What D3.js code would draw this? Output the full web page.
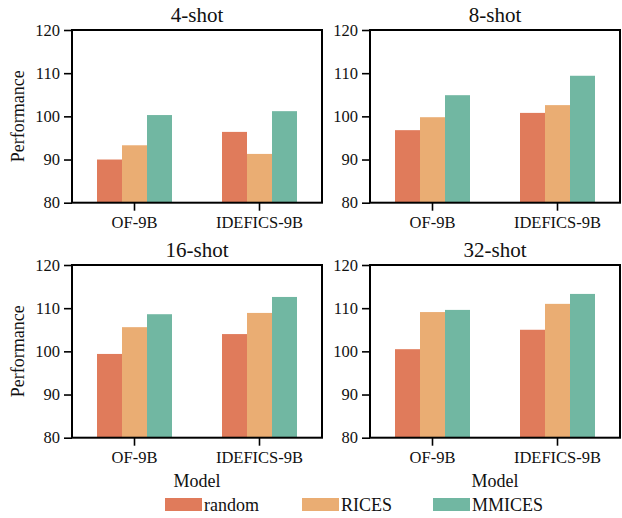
<!DOCTYPE html>
<html>
<head>
<meta charset="utf-8">
<script src="https://cdn.jsdelivr.net/npm/d3@7.9.0/dist/d3.min.js"></script>
<style>
  body { margin: 0; background: #fff; }
  svg text { font-family: "Liberation Serif", "Times New Roman", serif; }
</style>
</head>
<body>
<svg id="chart" width="622" height="518"></svg>
<script>
const shots = ["4-shot", "8-shot", "16-shot", "32-shot"];
const models = ["OF-9B", "IDEFICS-9B"];
const methods = ["random", "RICES", "MMICES"];
// one row per shot, one value per model
const random = [[90.0, 96.4], [96.8, 100.8], [99.4, 104.0], [100.5, 105.0]];
const rices = [[93.3, 91.3], [99.8, 102.6], [105.6, 108.9], [109.1, 111.0]];
const mmices = [[100.3, 101.2], [104.9, 109.4], [108.6, 112.6], [109.6, 113.3]];
const yTicks = [80, 90, 100, 110, 120];

const series = [random, rices, mmices];
const color = d3.scaleOrdinal().domain(methods).range(["#e07b5b", "#eaad73", "#71b7a2"]);

const svg = d3.select('#chart');
const w = 250, h = 172.7;
const origins = [[72, 30], [370, 30], [72, 265], [370, 265]];

const x0 = d3.scaleBand().domain(models).range([0, w]).paddingInner(0.4).paddingOuter(0.2);
const x1 = d3.scaleBand().domain(methods).range([0, x0.bandwidth()]);
const y = d3.scaleLinear().domain([80, 120]).range([h, 0]);

shots.forEach((shot, s) => {
  const [ox, oy] = origins[s];
  const g = svg.append('g').attr('transform', `translate(${ox},${oy})`);

  const rows = models.map((m, mi) => ({
    model: m,
    vals: methods.map((k, ki) => ({ key: k, value: series[ki][s][mi] }))
  }));

  g.selectAll('g.grp')
    .data(rows)
    .enter()
    .append('g')
    .attr('transform', d => `translate(${x0(d.model)},0)`)
    .selectAll('rect')
    .data(d => d.vals)
    .enter()
    .append('rect')
    .attr('x', d => x1(d.key))
    .attr('width', x1.bandwidth())
    .attr('y', d => y(d.value))
    .attr('height', d => h - y(d.value))
    .attr('fill', d => color(d.key));

  const yAxis = g.append('g')
    .call(d3.axisLeft(y).tickValues(yTicks).tickSize(8).tickPadding(4));
  const xAxis = g.append('g')
    .attr('transform', `translate(0,${h})`)
    .call(d3.axisBottom(x0).tickSize(8).tickPadding(6));

  [yAxis, xAxis].forEach(a => {
    a.attr('font-family', null);
    a.select('.domain').remove();
    a.selectAll('line').attr('stroke', '#000').attr('stroke-width', 1.6);
    a.selectAll('text').attr('font-size', 16.5).attr('fill', '#111');
  });

  g.append('rect')
    .attr('width', w).attr('height', h)
    .attr('fill', 'none').attr('stroke', '#000').attr('stroke-width', 2);

  g.append('text')
    .attr('x', w / 2).attr('y', -8)
    .attr('text-anchor', 'middle')
    .attr('font-size', 21)
    .attr('fill', '#111')
    .text(shot);

  if (s % 2 === 0) {
    g.append('text')
      .attr('transform', `translate(${-ox + 24},${h / 2}) rotate(-90)`)
      .attr('text-anchor', 'middle')
      .attr('font-size', 18)
      .attr('fill', '#111')
      .text('Performance');
  }
  if (s >= 2) {
    g.append('text')
      .attr('x', w / 2).attr('y', h + 49)
      .attr('text-anchor', 'middle')
      .attr('font-size', 18)
      .attr('fill', '#111')
      .text('Model');
  }
});

// legend along the bottom
const legendX = [165, 302, 433];
const legend = svg.append('g').attr('transform', 'translate(0,498)');
methods.forEach((m, i) => {
  legend.append('rect')
    .attr('x', legendX[i]).attr('y', 0)
    .attr('width', 37).attr('height', 13)
    .attr('fill', color(m));
  legend.append('text')
    .attr('x', legendX[i] + 39).attr('y', 12.7)
    .attr('font-size', 18)
    .attr('fill', '#111')
    .text(m);
});
</script>
</body>
</html>
